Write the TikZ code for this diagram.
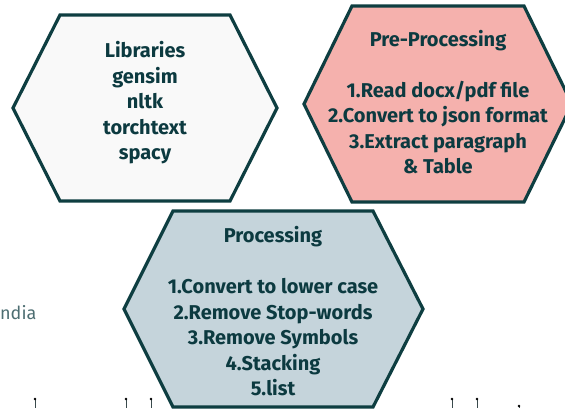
\documentclass[tikz,border=0pt]{standalone}
\usepackage{fontspec}
\setmainfont{Fira Sans}
\definecolor{hexborder}{HTML}{0E3E41}
\definecolor{txt}{HTML}{0C3A40}
\definecolor{libfill}{HTML}{F9F9F9}
\definecolor{prefill}{HTML}{F5B1AD}
\definecolor{procfill}{HTML}{C5D4DB}
\definecolor{faint}{HTML}{4D6E72}
\definecolor{pin}{HTML}{3A4A4C}
\begin{document}
\begin{tikzpicture}[x=1pt,y=-1pt,
  hexline/.style={draw=hexborder,line width=3.2pt,line join=miter},
  hextext/.style={text=txt,font=\bfseries\fontsize{20}{25.5}\selectfont,align=center,inner sep=0pt},
  pinline/.style={draw=pin,line width=0.8pt}]
\useasboundingbox (0,0) rectangle (565,408);
\clip (0,0) rectangle (565,408);
\fill[white] (0,0) rectangle (565,408);
% Libraries hexagon
\filldraw[hexline,fill=libfill] (60,15) -- (230,15) -- (277,108) -- (230,201) -- (60,201) -- (13,108) -- cycle;
\node[hextext] (lib) at (145,103) {Libraries\\gensim\\nltk\\torchtext\\spacy};
% Pre-processing hexagon
\filldraw[hexline,fill=prefill] (352,6) -- (524,6) -- (572,104) -- (524,202) -- (352,202) -- (304,104) -- cycle;
\node[hextext] (pre) at (438,102) {Pre-Processing\\[25.5pt]1.Read docx/pdf file\\2.Convert to json format\\3.Extract paragraph\\\& Table};
% Processing hexagon
\filldraw[hexline,fill=procfill] (173,211) -- (373,211) -- (423,309) -- (373,407) -- (173,407) -- (124,309) -- cycle;
\node[hextext] (proc) at (273,311.5) {Processing\\[25.5pt]1.Convert to lower case\\2.Remove Stop-words\\3.Remove Symbols\\4.Stacking\\5.list};
% fragment text
\node[anchor=west,inner sep=0pt,text=faint,font=\fontsize{18}{21}\selectfont] (india) at (0,313) {ndia};
% pins
\foreach \px/\py in {35/399,126/399,151/399,452/399,477/399,519/406}{
  \draw[pinline] (\px,\py) -- (\px,408);
  \fill[pin] (\px,\py) circle (1.4pt);
}
\end{tikzpicture}
\end{document}
